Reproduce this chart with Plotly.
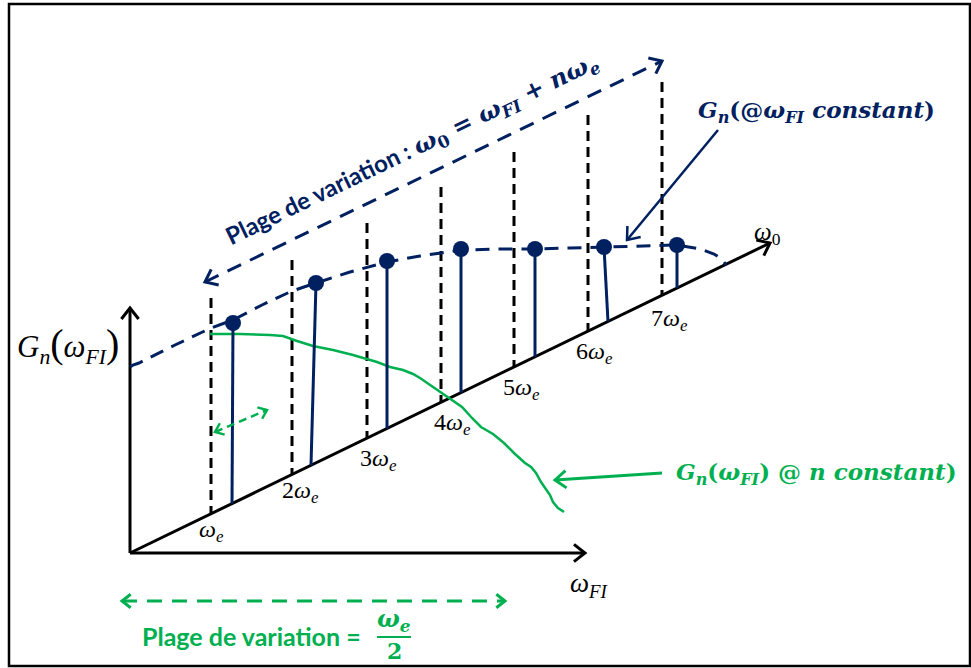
import math
import plotly.graph_objects as go

NAVY = "#002060"
GREEN = "#00B050"
BLACK = "#000000"
SERIF = "Liberation Serif"
MATH = "DejaVu Serif"
SANS = "Lato"

# ---------------- diagram data (picture coordinates, y downwards) ----------------
harmonics = [1, 2, 3, 4, 5, 6, 7]
tick_labels = ["<i>ω</i><sub><i>e</i></sub>"] + [f"{n}<i>ω</i><sub><i>e</i></sub>" for n in harmonics[1:]]

# oblique omega_0 axis
axis_origin = (130, 553)
axis_end = (770, 243)

# dashed harmonic verticals n*we
tick_x = [211, 292, 367, 441, 514, 588, 662]
tick_top_y = [298, 260, 223, 187, 152, 115, 82]
tick_label_x = [211, 300, 378, 452, 521, 594, 669]
tick_label_y = [531, 492, 460, 424, 389, 353, 320]

# stems G_n at w_FI constant
stem_base_x = [232, 311, 387, 461, 535, 608, 677]
stem_top_x = [233, 316, 387, 461, 535, 604, 677]
stem_top_y = [323, 283, 261, 249, 249, 247, 245]

# dashed envelope through stem tops
env_x = [130, 133, 139, 175, 211, 233, 262, 292, 316, 350, 387, 420, 441, 461, 500, 535, 570, 604, 640, 677, 700, 714, 722, 726]
env_y = [367, 365, 363, 345, 328, 320, 305, 291, 283, 272, 262, 256, 253, 250, 249, 249, 248, 247, 246, 245, 249, 254, 259, 265]

# green curve G_n(w_FI) at n constant
green_x = [210, 240, 270, 283, 297, 313, 333, 353, 377, 390, 403, 413, 420, 430, 441, 452, 462, 472, 481, 493, 504, 515, 525, 531, 536, 541, 546, 550, 553, 558, 564]
green_y = [334, 334, 335, 336, 341, 346, 350, 355, 362, 367, 370, 374, 378, 385, 393, 400, 407, 418, 427, 434, 443, 454, 463, 467, 473, 482, 490, 495, 502, 508, 512]


def axis_y(x):
    (x0, y0), (x1, y1) = axis_origin, axis_end
    return y0 + (x - x0) * (y1 - y0) / (x1 - x0)


def chevron(x0, y0, x1, y1, L=14, ang=38):
    a = math.atan2(y0 - y1, x0 - x1)
    r = math.radians(ang)
    xs = [x1 + L * math.cos(a + r), x1, x1 + L * math.cos(a - r)]
    ys = [y1 + L * math.sin(a + r), y1, y1 + L * math.sin(a - r)]
    return xs, ys


fig = go.Figure()


def line(xs, ys, color, width, dash="solid"):
    fig.add_trace(go.Scatter(x=xs, y=ys, mode="lines", line=dict(color=color, width=width, dash=dash),
                             hoverinfo="skip", showlegend=False))


def arrow(x0, y0, x1, y1, color, width, dash="solid", both=False, L=14):
    line([x0, x1], [y0, y1], color, width, dash)
    cx, cy = chevron(x0, y0, x1, y1, L)
    line(cx, cy, color, width)
    if both:
        cx, cy = chevron(x1, y1, x0, y0, L)
        line(cx, cy, color, width)


# dashed harmonic verticals
for x, yt in zip(tick_x, tick_top_y):
    line([x, x], [yt, axis_y(x)], BLACK, 3, "10px,6px")

# axes
arrow(130, 553, 130, 308, BLACK, 3)
arrow(130, 553, 585, 553, BLACK, 3)
arrow(axis_origin[0], axis_origin[1], axis_end[0], axis_end[1], BLACK, 3)

# envelope
line(env_x, env_y, NAVY, 3, "14px,9px")

# green curve
line(green_x, green_y, GREEN, 2.5)

# stems
for bx, tx, ty in zip(stem_base_x, stem_top_x, stem_top_y):
    line([bx, tx], [axis_y(bx), ty], NAVY, 3)
fig.add_trace(go.Scatter(x=stem_top_x, y=stem_top_y, mode="markers",
                         marker=dict(color=NAVY, size=16, line=dict(width=0)),
                         hoverinfo="skip", showlegend=False))

# range arrows
arrow(205, 282, 662, 61, NAVY, 3, "15px,10px", both=True)
arrow(718, 130, 627, 240, NAVY, 2.5)
arrow(662, 473, 555, 480, GREEN, 3)
arrow(215, 432, 267, 410, GREEN, 2.5, "8px,5px", both=True, L=10)
arrow(122, 601, 505, 601, GREEN, 3, "15px,10px", both=True, L=11)

# fraction bar
line([377, 411], [637, 637], GREEN, 2)


def text(x, y, s, size, color=BLACK, family=SERIF, angle=0):
    fig.add_annotation(x=x, y=y, xref="x", yref="y", text=s, showarrow=False,
                       xanchor="center", yanchor="middle", textangle=angle,
                       font=dict(size=size, color=color, family=family))


for x, y, s in zip(tick_label_x, tick_label_y, tick_labels):
    text(x, y, s, 24)

text(68, 345, "<i>G</i><sub><i>n</i></sub><span style='font-size:40px'>(</span><i>ω</i><sub><i>FI</i></sub><span style='font-size:40px'>)</span>", 31)
text(589, 585, "<i>ω</i><sub><i>FI</i></sub>", 27)
text(767, 233, "<i>ω</i><sub>0</sub>", 25)

text(412, 149,
     "<b>Plage de variation : </b><span style='font-family:DejaVu Serif'><b><i>ω</i></b><sub><b>0</b></sub><b> = <i>ω</i></b><sub><b><i>FI</i></b></sub><b> + <i>nω</i></b><sub><b><i>e</i></b></sub></span>",
     24, NAVY, SANS, angle=-25.8)

text(816, 111, "<b><i>G</i></b><sub><b><i>n</i></b></sub><b>(@<i>ω</i></b><sub><b><i>FI</i></b></sub><b><i> constant</i>)</b>", 23, NAVY, MATH)
text(816, 473, "<b><i>G</i></b><sub><b><i>n</i></b></sub><b>(<i>ω</i></b><sub><b><i>FI</i></b></sub><b>) @ <i>n constant</i>)</b>", 23, GREEN, MATH)

text(254, 636, "<b>Plage de variation = </b>", 25, GREEN, SANS)
text(394, 620, "<b><i>ω</i></b><sub><b><i>e</i></b></sub>", 24, GREEN, MATH)
text(394, 651, "<b>2</b>", 22, GREEN, MATH)

# outer frame
fig.add_shape(type="rect", x0=9, y0=4, x1=970, y1=666, xref="x", yref="y",
              line=dict(color=BLACK, width=2.5))

fig.update_layout(
    width=971, height=668, margin=dict(l=0, r=0, t=0, b=0),
    paper_bgcolor="white", plot_bgcolor="white",
    xaxis=dict(range=[0, 971], visible=False, fixedrange=True),
    yaxis=dict(range=[668, 0], visible=False, fixedrange=True),
    showlegend=False,
)

fig.write_html("out.html", config={"displayModeBar": False})
